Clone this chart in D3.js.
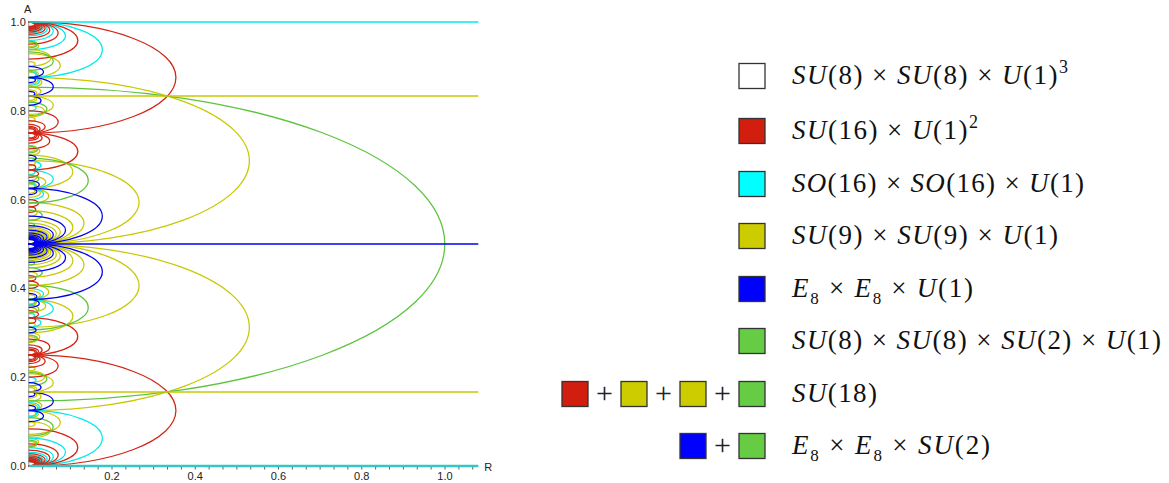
<!DOCTYPE html>
<html><head><meta charset="utf-8">
<script src="https://cdnjs.cloudflare.com/ajax/libs/d3/7.8.5/d3.min.js"></script>
<style>body{margin:0;background:#fff}svg{display:block}</style>
</head><body><svg id="chart" width="1169" height="483"></svg>
<script>
// ---- data: enhancement curves, each entry = [R extent, [A centres]] ----
const redArcs = [
  [0.3536,[0.125,0.875]],
  [0.1179,[0.0417,0.2917,0.7083,0.9583]],
  [0.0707,[0.025,0.225,0.775,0.975]],
  [0.0505,[0.0179,0.2679,0.7321,0.9821]],
  [0.0393,[0.0139,0.2361,0.7639,0.9861]],
  [0.0321,[0.0114,0.2614,0.7386,0.9886]],
  [0.0272,[0.0096,0.2404,0.7596,0.9904]],
  [0.0236,[0.0083,0.2583,0.3417,0.4083,0.5917,0.6583,0.7417,0.9917]],
  [0.0208,[0.0074,0.2426,0.7574,0.9926]],
  [0.0186,[0.0066,0.2566,0.7434,0.9934]],
  [0.0168,[0.006,0.244,0.3274,0.4226,0.5774,0.6726,0.756,0.994]],
  [0.0154,[0.0054,0.2554,0.7446,0.9946]],
  [0.0141,[0.005,0.245,0.755,0.995]]
];
const cyanArcs = [
  [0.1768,[0.0625,0.9375]],
  [0.0884,[0.0313,0.9688]],
  [0.0589,[0.0208,0.3542,0.6458,0.9792]],
  [0.0442,[0.0156,0.9844]],
  [0.0354,[0.0125,0.3875,0.6125,0.9875]],
  [0.0295,[0.0104,0.3229,0.6771,0.9896]],
  [0.0253,[0.0089,0.1339,0.8661,0.9911]],
  [0.0221,[0.0078,0.9922]],
  [0.0196,[0.0069,0.1181,0.8819,0.9931]],
  [0.0177,[0.0063,0.1938,0.8063,0.9938]],
  [0.0161,[0.0057,0.3693,0.6307,0.9943]],
  [0.0147,[0.0052,0.3385,0.6615,0.9948]]
];
const yellowArcs = [
  [0.5303,[0.3125,0.6875]],
  [0.2652,[0.4063,0.5938]],
  [0.1326,[0.4531,0.5469]],
  [0.1061,[0.3375,0.4625,0.5375,0.6625]],
  [0.0758,[0.0982,0.4732,0.5268,0.9018]],
  [0.0663,[0.4766,0.5234]],
  [0.0589,[0.1875,0.8125]],
  [0.053,[0.0813,0.4813,0.5188,0.9188]],
  [0.0482,[0.392,0.483,0.517,0.608]],
  [0.0408,[0.3606,0.4856,0.5144,0.6394]],
  [0.0379,[0.2009,0.4866,0.5134,0.7991]],
  [0.0331,[0.4883,0.5117]],
  [0.0312,[0.136,0.489,0.511,0.864]],
  [0.0295,[0.1563,0.8438]],
  [0.0279,[0.3849,0.4901,0.5099,0.6151]],
  [0.0265,[0.2906,0.4906,0.5094,0.7094]],
  [0.0241,[0.054,0.4915,0.5085,0.946]],
  [0.0231,[0.1168,0.4918,0.5082,0.8832]],
  [0.0212,[0.1325,0.4925,0.5075,0.8675]],
  [0.0204,[0.4303,0.4928,0.5072,0.5697]],
  [0.0196,[0.0486,0.1597,0.1736,0.2847,0.7153,0.8264,0.8403,0.9514]],
  [0.0189,[0.3504,0.4933,0.5067,0.6496]],
  [0.0183,[0.3685,0.4935,0.5065,0.6315]],
  [0.0171,[0.119,0.494,0.506,0.881]],
  [0.0166,[0.4941,0.5059]],
  [0.0156,[0.318,0.4945,0.5055,0.682]],
  [0.0152,[0.0946,0.2196,0.3804,0.4946,0.5054,0.6196,0.7804,0.9054]],
  [0.0147,[0.1719,0.8281]],
  [0.0143,[0.3699,0.4949,0.5051,0.6301]]
];
const blueArcs = [
  [0.1768,[0.4375,0.5625]],
  [0.0884,[0.4688,0.5313]],
  [0.0589,[0.1458,0.4792,0.5208,0.8542]],
  [0.0442,[0.4844,0.5156]],
  [0.0354,[0.1125,0.4875,0.5125,0.8875]],
  [0.0295,[0.1771,0.4896,0.5104,0.8229]],
  [0.0253,[0.3661,0.4911,0.5089,0.6339]],
  [0.0221,[0.4922,0.5078]],
  [0.0196,[0.3819,0.4931,0.5069,0.6181]],
  [0.0177,[0.3063,0.4938,0.5063,0.6938]],
  [0.0161,[0.1307,0.4943,0.5057,0.8693]],
  [0.0147,[0.1615,0.4948,0.5052,0.8385]]
];
const greenArcs = [
  [1.0,[0.5]],
  [0.1429,[0.3571,0.6429]],
  [0.0588,[0.0882,0.9118]],
  [0.0435,[0.1957,0.8043]],
  [0.0323,[0.4355,0.5645]],
  [0.0244,[0.3537,0.6463]],
  [0.0213,[0.2872,0.7128]],
  [0.0204,[0.051,0.949]],
  [0.0141,[0.4577,0.5423]]
];
const cyanLines = [0, 1];
const yellowLines = [0.1667, 0.8333];
const blueLines = [0.5];
const xTickValues = [0.2, 0.4, 0.6, 0.8, 1.0];
const yTickValues = [0.0, 0.2, 0.4, 0.6, 0.8, 1.0];
const legendRows = [
  {sw:['white'], parts:[['SU','i'],['(8)','r'],[' × ','r'],['SU','i'],['(8)','r'],[' × ','r'],['U','i'],['(1)','r'],['3','sup']], w:276},
  {sw:['red'], parts:[['SU','i'],['(16)','r'],[' × ','r'],['U','i'],['(1)','r'],['2','sup']], w:186},
  {sw:['cyan'], parts:[['SO','i'],['(16)','r'],[' × ','r'],['SO','i'],['(16)','r'],[' × ','r'],['U','i'],['(1)','r']], w:292},
  {sw:['yellow'], parts:[['SU','i'],['(9)','r'],[' × ','r'],['SU','i'],['(9)','r'],[' × ','r'],['U','i'],['(1)','r']], w:266},
  {sw:['blue'], parts:[['E','i'],['8','sub'],[' × ','r'],['E','i'],['8','sub'],[' × ','r'],['U','i'],['(1)','r']], w:181},
  {sw:['green'], parts:[['SU','i'],['(8)','r'],[' × ','r'],['SU','i'],['(8)','r'],[' × ','r'],['SU','i'],['(2)','r'],[' × ','r'],['U','i'],['(1)','r']], w:369},
  {sw:['red','yellow','yellow','green'], parts:[['SU','i'],['(18)','r']], w:85},
  {sw:['blue','green'], parts:[['E','i'],['8','sub'],[' × ','r'],['E','i'],['8','sub'],[' × ','r'],['SU','i'],['(2)','r']], w:198}
];
// ---- styles ----
const colors = {white:'#ffffff', red:'#d21e0f', cyan:'#00ffff', yellow:'#cccc00', blue:'#0000ff', green:'#66cc44'};
const curveColors = {red:'#d42414', cyan:'#00eaea', yellow:'#c8c800', blue:'#0000f0', green:'#5cc43c'};
const ASPECT = Math.sqrt(8); // R half-extent / A half-extent of every curve

const svg = d3.select('#chart');
svg.append('rect').attr('width',1169).attr('height',483).attr('fill','#fff');
const x = d3.scaleLinear().domain([0,1.08]).range([28.75,478.3]);
const y = d3.scaleLinear().domain([0,1]).range([466,22]);

function arcPath(r, c){
  const h = r/ASPECT;
  const x0 = x(0), yt = y(c+h), yb = y(c-h);
  const rx = x(r)-x(0), ry = (yb-yt)/2;
  return `M${x0},${yt}A${rx},${ry} 0 0 1 ${x0},${yb}`;
}
function flat(arr){ const out=[]; arr.forEach(([r,cs])=>cs.forEach(c=>out.push({r,c}))); return out; }

// axes (under the curves)
const ax = svg.append('g').attr('font-family','Liberation Sans, Arial, sans-serif').attr('font-size',11).attr('fill','#222');
ax.append('line').attr('x1',x(0)).attr('x2',x(0)).attr('y1',y(0)).attr('y2',y(1)).attr('stroke','#777').attr('stroke-width',0.8);
const minorX = d3.range(1,33).map(i=>i/30).filter(v=>v<=1.075);
ax.append('g').selectAll('line').data(minorX).join('line')
  .attr('x1',d=>x(d)).attr('x2',d=>x(d)).attr('y1',y(0)).attr('y2',y(0)+3.5).attr('stroke','#333').attr('stroke-width',0.8);
ax.append('g').selectAll('text').data(xTickValues).join('text')
  .attr('x',d=>x(d)).attr('y',y(0)+14).attr('text-anchor','middle').text(d=>d3.format('.1f')(d));
ax.append('g').selectAll('text').data(yTickValues).join('text')
  .attr('x',x(0)-3).attr('y',d=>y(d)+4).attr('text-anchor','end').text(d=>d3.format('.1f')(d));
ax.append('text').attr('x',x(0)-1).attr('y',13).attr('text-anchor','middle').text('A');
ax.append('text').attr('x',x(1.08)+6).attr('y',y(0)+5).text('R');

const plot = svg.append('g');
[['yellow',yellowArcs],['cyan',cyanArcs],['red',redArcs],['green',greenArcs],['blue',blueArcs]].forEach(([k,arr])=>{
  plot.append('g').selectAll('path').data(flat(arr)).join('path')
    .attr('d',d=>arcPath(d.r,d.c)).attr('fill','none')
    .attr('stroke',curveColors[k]).attr('stroke-width',1.25);
});
function hlines(vals,color,wd){
  plot.append('g').selectAll('line').data(vals).join('line')
    .attr('x1',x(0)).attr('x2',x(1.08)).attr('y1',d=>y(d)).attr('y2',d=>y(d))
    .attr('stroke',color).attr('stroke-width',wd);
}
hlines(yellowLines,curveColors.yellow,1.3);
hlines(blueLines,curveColors.blue,1.3);
hlines(cyanLines.filter(d=>d>0),curveColors.cyan,1.6);
// bottom cyan line lies on the R axis
hlines(cyanLines.filter(d=>d===0),'#33c6c6',2.6);

// legend
const lg = svg.append('g');
const rowY = [76,131,184,236,289,341,394,446];
const SW = 26, STEP = 59, SWX = 739, TX = 792;
legendRows.forEach((row,i)=>{
  const cy = rowY[i];
  const n = row.sw.length;
  row.sw.forEach((k,j)=>{
    const x0 = SWX - (n-1-j)*STEP;
    lg.append('rect').attr('x',x0).attr('y',cy-12.5).attr('width',SW).attr('height',25)
      .attr('fill',colors[k]).attr('stroke','#333').attr('stroke-width',1.3);
    if(j<n-1) lg.append('text').attr('x',x0+SW+16.5).attr('y',cy+9).attr('text-anchor','middle')
      .attr('font-family','Liberation Serif, serif').attr('font-size',30).attr('font-weight',300).attr('fill','#222').text('+');
  });
  const t = lg.append('text').attr('x',TX).attr('y',cy+8).attr('font-family','Liberation Serif, serif')
    .attr('font-size',27).attr('fill','#111');
  let shift = 0;
  row.parts.forEach(([s,st])=>{
    const ts = t.append('tspan').text(s);
    if(st==='i') ts.attr('font-style','italic');
    if(st==='sup'){ ts.attr('font-size',18).attr('dy',-11-shift); shift=-11; }
    else if(st==='sub'){ ts.attr('font-size',17).attr('dy',7-shift); shift=7; }
    else if(shift!==0){ ts.attr('dy',-shift); shift=0; }
  });
  t.attr('textLength',row.w).attr('lengthAdjust','spacing');
});
</script></body></html>
